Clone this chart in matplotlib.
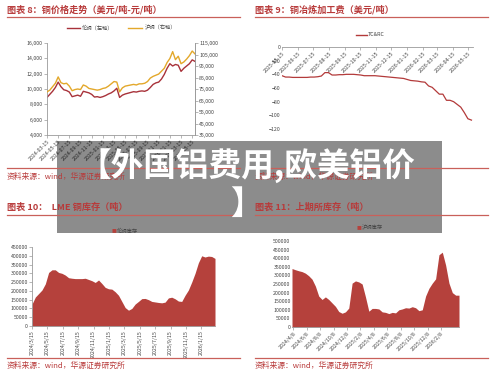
import numpy as np
import pandas as pd
import matplotlib
matplotlib.use("Agg")
from matplotlib import pyplot as plt
from matplotlib.patches import Rectangle
from matplotlib.lines import Line2D
from matplotlib.ticker import FuncFormatter

plt.rcParams['font.family'] = ['Noto Sans CJK SC', 'DejaVu Sans']

W, H = 500.0, 376.0

# chart 8: copper prices, half-monthly from 2024-03-15
lme_price = [8900, 9300, 9700, 10200, 10900, 10300, 9900, 9800, 9600, 9000,
             9100, 9200, 9050, 9700, 9600, 9500, 9300, 8950, 9000, 8900,
             9000, 9150, 9350, 9500, 9750, 10100, 8900, 9200, 9350, 9450,
             9550, 9650, 9600, 9700, 9750, 9700, 9850, 10200, 10600, 10800,
             10900, 11300, 11900, 12700, 13300, 13000, 13200, 13100, 12300, 12700,
             13000, 13300, 13800, 13600]
shfe_price = [72500, 74000, 77000, 80000, 85500, 80500, 79500, 80000, 77500, 73500,
              74500, 75000, 74500, 78500, 77500, 75500, 75000, 74500, 74000, 74500,
              75500, 76000, 77500, 79500, 81500, 81000, 72500, 76000, 77500, 78000,
              78500, 79000, 78500, 79500, 79500, 80000, 81500, 84500, 86000, 87000,
              88000, 90500, 93000, 98000, 101500, 107500, 100500, 103500, 97000, 98500,
              101000, 104000, 108000, 105500]
price_dates = ['2024-03-15', '2024-05-15', '2024-07-15', '2024-09-15', '2024-11-15',
               '2025-01-15', '2025-03-15', '2025-05-15', '2025-07-15', '2025-09-15',
               '2025-11-15', '2026-01-15', '2026-03-15', '2026-05-15']

# chart 9: TC&RC weekly from 2025-05-15
tcrc = [-42, -44, -44, -44.5, -44.5, -44.5, -44.5, -44.5, -44, -44,
        -43.5, -42.5, -37.5, -37.5, -41, -41, -40.5, -40.5, -40, -40,
        -40, -40.5, -41, -42, -42, -42, -42, -42.5, -43, -43.5,
        -44, -44.5, -45, -45.5, -46, -47.5, -49, -49.5, -50, -51,
        -51.5, -57, -59, -64, -69, -69, -78, -78, -80, -84,
        -88, -96, -105, -107]
tcrc_dates = ['2025-05-15', '2025-06-15', '2025-07-15', '2025-08-15', '2025-09-15',
              '2025-10-15', '2025-11-15', '2025-12-15', '2026-01-15', '2026-02-15',
              '2026-03-15', '2026-04-15', '2026-05-15']

# chart 10: LME copper stocks
lme_stock = [125, 165, 185, 205, 240, 305, 320, 320, 305, 300,
             290, 275, 272, 270, 270, 270, 272, 265, 258, 248,
             262, 242, 220, 212, 210, 195, 175, 140, 105, 90,
             100, 125, 140, 156, 157, 150, 140, 137, 134, 132,
             136, 160, 164, 155, 142, 140, 175, 205, 250, 300,
             360, 400, 393, 398, 396, 385]
lme_stock = [v * 1000 for v in lme_stock]
lme_dates = ['2024/3/15', '2024/5/15', '2024/7/15', '2024/9/15', '2024/11/15', '2025/1/15',
             '2025/3/15', '2025/5/15', '2025/7/15', '2025/9/15', '2025/11/15', '2026/1/15']

# chart 11: SHFE copper stocks
shfe_stock = [340, 333, 327, 322, 313, 298, 278, 238, 180, 160,
              175, 160, 140, 120, 90, 80, 88, 110, 255, 268,
              262, 250, 175, 92, 108, 108, 105, 88, 85, 78,
              85, 82, 100, 105, 112, 110, 118, 112, 95, 100,
              180, 225, 255, 280, 420, 435, 360, 255, 200, 185, 185]
shfe_stock = [v * 1000 for v in shfe_stock]
shfe_dates = ['2024/4/8', '2024/6/8', '2024/8/8', '2024/10/8', '2024/12/8', '2025/2/8',
              '2025/4/8', '2025/6/8', '2025/8/8', '2025/10/8', '2025/12/8', '2026/2/8']

RED_TXT = '#b83a3a'
RED_LINE = '#c9605a'
FILL = '#b5413c'
TICK_C = '#444444'
AX_C = '#9a9a9a'


def axbox(x0, y0, x1, y1):
    return [x0 / W, 1 - y1 / H, (x1 - x0) / W, (y1 - y0) / H]


def ftext(x, y, s, **kw):
    fig.text(x / W, 1 - y / H, s, **kw)


def hline(x0, x1, y, color=RED_LINE, lw=0.9):
    fig.add_artist(Line2D([x0 / W, x1 / W], [1 - y / H, 1 - y / H], color=color, lw=lw,
                          transform=fig.transFigure))


def style_ax(ax):
    for s in ['top', 'right']:
        ax.spines[s].set_visible(False)
    for s in ['left', 'bottom']:
        ax.spines[s].set_color(AX_C)
        ax.spines[s].set_linewidth(0.6)
    ax.tick_params(colors=AX_C, labelcolor=TICK_C, labelsize=3.8, length=2, width=0.5, pad=1)


fig = plt.figure(figsize=(5, 3.76), dpi=100)

# ---- panel texts ----
ftext(7, 10, '图表 8：铜价格走势（美元/吨-元/吨）', fontsize=6.6, color=RED_TXT, weight='bold', va='center')
ftext(255, 10, '图表 9：铜冶炼加工费（美元/吨）', fontsize=6.6, color=RED_TXT, weight='bold', va='center')
ftext(7, 207, '图表 10：  LME 铜库存（吨）', fontsize=6.6, color=RED_TXT, weight='bold', va='center')
ftext(255, 207, '图表 11：上期所库存（吨）', fontsize=6.6, color=RED_TXT, weight='bold', va='center')
hline(7, 240, 16.5)
hline(255, 488, 16.5)
hline(7, 240, 215)
hline(255, 488, 215)
hline(7, 240, 168)
hline(255, 488, 168)
hline(7, 240, 358)
hline(255, 488, 358)
for x, y in [(7, 177), (255, 177), (7, 366), (255, 366)]:
    ftext(x, y, '资料来源：wind，华源证券研究所', fontsize=5.6, color=RED_TXT, va='center')

# ---- chart 8 ----
ax1 = fig.add_axes(axbox(47, 43, 195, 135))
x8 = np.arange(len(lme_price))
ax1.plot(x8, lme_price, color='#a8323a', lw=1.0)
ax1.set_ylim(4000, 16000)
ax1.set_yticks(np.arange(4000, 16001, 2000))
ax1.yaxis.set_major_formatter(FuncFormatter(lambda v, p: f'{int(v):,}'))
ax1.set_xlim(0, len(lme_price) - 1)
ax1.set_xticks(np.arange(len(price_dates)) * 4)
ax1.set_xticklabels(price_dates, rotation=45, ha='right', rotation_mode='anchor')
style_ax(ax1)
ax1.spines['right'].set_visible(True)
ax1.spines['right'].set_color(AX_C)
ax1.spines['right'].set_linewidth(0.6)
ax2 = ax1.twinx()
ax2.plot(x8, shfe_price, color='#e3a82b', lw=1.0)
ax2.set_ylim(35000, 115000)
ax2.set_yticks(np.arange(35000, 115001, 10000))
ax2.yaxis.set_major_formatter(FuncFormatter(lambda v, p: f'{int(v):,}'))
for s in ['top', 'left', 'bottom']:
    ax2.spines[s].set_visible(False)
ax2.spines['right'].set_color(AX_C)
ax2.spines['right'].set_linewidth(0.6)
ax2.tick_params(colors=AX_C, labelcolor=TICK_C, labelsize=3.8, length=2, width=0.5, pad=1)
fig.add_artist(Line2D([67 / W, 80 / W], [1 - 28 / H] * 2, color='#a8323a', lw=1.0, transform=fig.transFigure))
ftext(82, 28, '伦铜（左轴）', fontsize=3.8, color=TICK_C, va='center')
fig.add_artist(Line2D([128 / W, 142 / W], [1 - 28 / H] * 2, color='#e3a82b', lw=1.0, transform=fig.transFigure))
ftext(145, 28, '沪铜（右轴）', fontsize=3.8, color=TICK_C, va='center')

# ---- chart 9 ----
ax3 = fig.add_axes(axbox(282, 47, 473, 129))
style_ax(ax3)
ax3.spines['bottom'].set_position(('data', 0))
ax3.spines['left'].set_visible(False)
start9 = pd.Timestamp(tcrc_dates[0])
x9 = np.arange(len(tcrc)) * 7.0
ax3.plot(x9, tcrc, color='#b33a3a', lw=0.9)
ax3.set_ylim(-120, 0)
ax3.set_yticks(np.arange(-120, 1, 20))
ax3.set_xlim(0, x9[-1] + 3)
ax3.set_xticks([(pd.Timestamp(d) - start9).days for d in tcrc_dates])
ax3.set_xticklabels(tcrc_dates, rotation=45, ha='right', rotation_mode='anchor')
ax3.tick_params(colors=AX_C, labelcolor=TICK_C, labelsize=3.8, width=0.5, pad=1)
ax3.tick_params(axis='x', length=2)
ax3.tick_params(axis='y', length=0)
fig.add_artist(Line2D([356 / W, 367 / W], [1 - 35 / H] * 2, color='#b33a3a', lw=1.0, transform=fig.transFigure))
ftext(368, 35, 'TC&RC', fontsize=3.8, color=TICK_C, va='center')

# ---- chart 10 ----
ax4 = fig.add_axes(axbox(32, 247, 215, 326))
x10 = np.arange(len(lme_stock))
ax4.fill_between(x10, 0, lme_stock, color=FILL, lw=0)
ax4.set_ylim(0, 450000)
ax4.set_yticks(np.arange(0, 450001, 50000))
ax4.set_xlim(0, len(lme_stock) - 1)
ax4.set_xticks(np.arange(len(lme_dates)) * 4.63)
ax4.set_xticklabels(lme_dates, rotation=90)
style_ax(ax4)
ftext(112, 231, '■', fontsize=3.5, color=FILL, va='center')
ftext(117, 231, '伦铜库存', fontsize=3.8, color=TICK_C, va='center')

# ---- chart 11 ----
ax5 = fig.add_axes(axbox(292, 241, 459, 327))
x11 = np.arange(len(shfe_stock))
ax5.fill_between(x11, 0, shfe_stock, color=FILL, lw=0)
ax5.set_ylim(0, 500000)
ax5.set_yticks(np.arange(0, 500001, 50000))
ax5.set_xlim(0, len(shfe_stock) - 1)
ax5.set_xticks(0.4 + np.arange(len(shfe_dates)) * 4.02)
ax5.set_xticklabels(shfe_dates, rotation=45, ha='right', rotation_mode='anchor')
style_ax(ax5)
ax5.spines['left'].set_visible(False)
ax5.tick_params(axis='y', length=0)
ftext(357, 228, '■', fontsize=3.5, color=FILL, va='center')
ftext(362, 228, '沪铜库存', fontsize=3.8, color=TICK_C, va='center')

# ---- overlay banner ----
fig.add_artist(Rectangle((57 / W, 1 - 233 / H), (442 - 57) / W, (233 - 141) / H,
                         transform=fig.transFigure, facecolor='black', alpha=0.45, lw=0))
ftext(247, 166, '【外国铝费用,欧美铝价', fontsize=23.5, color='white', weight='heavy',
      ha='center', va='center')
ftext(246, 204, '】', fontsize=23.5, color='white', weight='heavy', ha='center', va='center')

fig.savefig('out.png', dpi=100)
